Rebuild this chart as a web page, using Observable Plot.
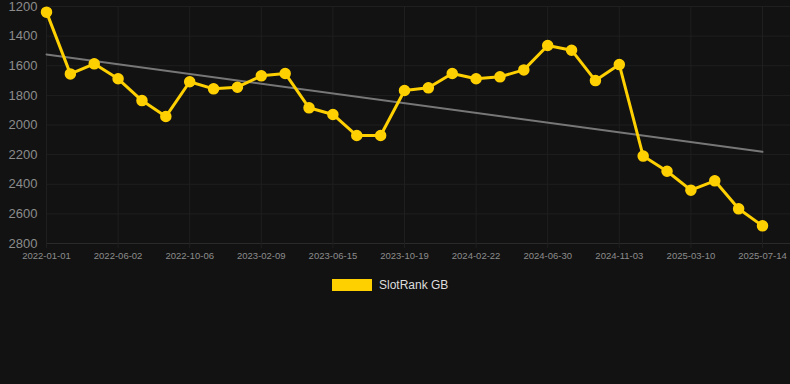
<!DOCTYPE html>
<html><head><meta charset="utf-8">
<script src="https://cdn.jsdelivr.net/npm/d3@7"></script>
<script src="https://cdn.jsdelivr.net/npm/@observablehq/plot@0.6"></script>
<style>
body{margin:0;background:#121212;width:790px;height:384px;overflow:hidden;font-family:"Liberation Sans",Arial,sans-serif;position:relative}
#legend{position:absolute;left:332px;top:278px;display:flex;align-items:center;gap:7px;color:#dddddd;font-size:12px;font-family:"Liberation Sans",Arial,sans-serif}
#legend .sw{width:40px;height:12px;background:#FFD000}
</style></head><body>
<div id="chart"></div>
<div id="legend"><div class="sw"></div><span id="legend-label"></span></div>
<script>
const seriesName = "SlotRank GB";
const dates = ["2022-01-01","2022-03-10","2022-04-21","2022-06-02","2022-07-14","2022-08-25","2022-10-06","2022-11-17","2022-12-29","2023-02-09","2023-03-23","2023-05-04","2023-06-15","2023-07-27","2023-09-07","2023-10-19","2023-11-30","2024-01-11","2024-02-22","2024-04-04","2024-05-16","2024-06-30","2024-08-11","2024-09-22","2024-11-03","2024-12-15","2025-01-26","2025-03-10","2025-04-21","2025-06-02","2025-07-14"];
const ranks = [1238,1655,1587,1688,1835,1943,1708,1756,1745,1668,1652,1884,1929,2071,2071,1767,1749,1652,1688,1675,1628,1463,1495,1700,1592,2210,2312,2440,2377,2566,2681];
const yTicks = [1200,1400,1600,1800,2000,2200,2400,2600,2800];
const xTickIdx = [0,3,6,9,12,15,18,21,24,27,30];

const data = ranks.map((v,i)=>({i, date: dates[i], rank: v}));
document.getElementById("legend-label").textContent = seriesName;

const yellow = "#FFD000";
const grid = "#1f1f1f";
const last = dates.length - 1;
// plot frame runs to the right edge of the svg; the last point sits 28px in from it
const xEnd = last * (790 - 46) / (762 - 46);
const chart = Plot.plot({
  width: 790,
  height: 270,
  marginLeft: 46,
  marginRight: 0,
  marginTop: 6,
  marginBottom: 27,
  style: {background: "#121212", fontFamily: "'Liberation Sans', Arial, sans-serif", overflow: "visible"},
  x: {type: "linear", domain: [0, xEnd]},
  y: {domain: [1200, 2800], reverse: true},
  marks: [
    Plot.gridY(yTicks.slice(0, -1), {stroke: grid, strokeOpacity: 1}),
    Plot.gridX(xTickIdx, {stroke: grid, strokeOpacity: 1}),
    Plot.ruleY([2800], {stroke: "#2a2a2a"}),
    Plot.axisY(yTicks, {tickSize: 0, tickPadding: 9, fill: "#8c8c8c", fontSize: 13, label: null, tickFormat: d => String(d)}),
    Plot.axisX(xTickIdx, {tickSize: 5, stroke: grid, tickPadding: 4, fill: "#8c8c8c", fontSize: 9.5, label: null, tickFormat: i => dates[i]}),
    Plot.linearRegressionY(data, {x: "i", y: "rank", ci: 0, stroke: "#777777", strokeWidth: 2}),
    Plot.line(data, {x: "i", y: "rank", stroke: yellow, strokeWidth: 3}),
    Plot.dot(data, {x: "i", y: "rank", r: 5, fill: yellow, stroke: yellow})
  ]
});
document.getElementById("chart").appendChild(chart);
</script>
</body></html>
